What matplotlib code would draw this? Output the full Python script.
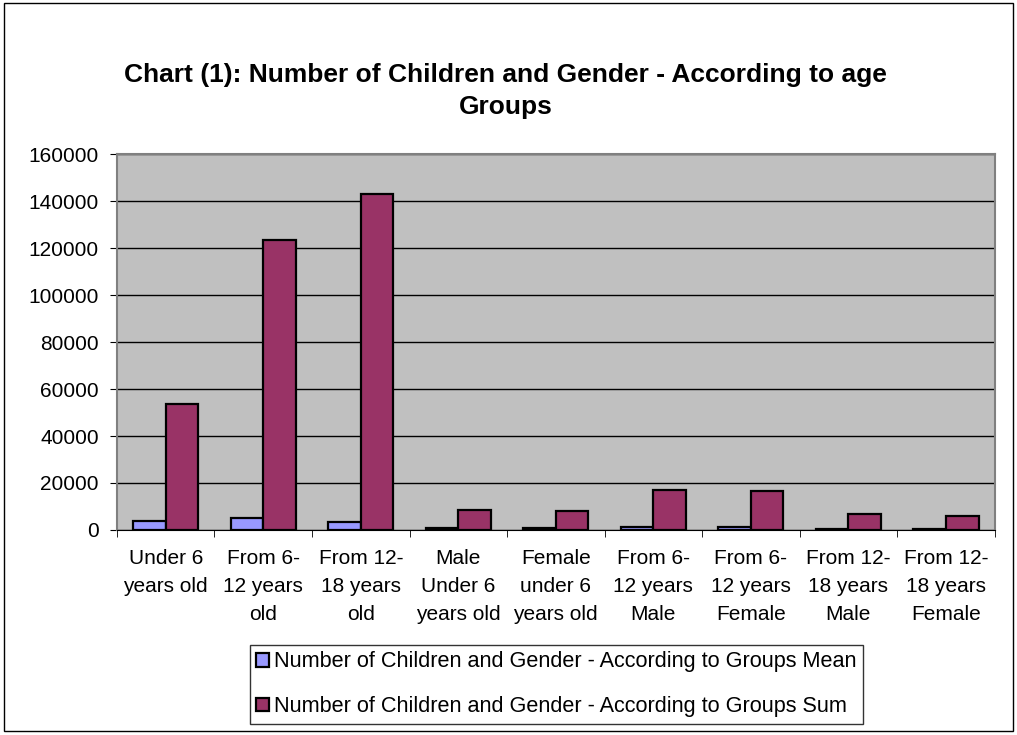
import matplotlib

matplotlib.use("Agg")
import matplotlib.pyplot as plt
import numpy as np
from matplotlib.patches import Rectangle

plt.rcParams["font.family"] = ["Liberation Sans", "DejaVu Sans"]

CATEGORIES = [
    "Under 6\nyears old",
    "From 6-\n12 years\nold",
    "From 12-\n18 years\nold",
    "Male\nUnder 6\nyears old",
    "Female\nunder 6\nyears old",
    "From 6-\n12 years\nMale",
    "From 6-\n12 years\nFemale",
    "From 12-\n18 years\nMale",
    "From 12-\n18 years\nFemale",
]
MEAN_VALUES = [3950, 5100, 3500, 900, 800, 1100, 1050, 600, 550]
SUM_VALUES = [53500, 123500, 143300, 8600, 7900, 16900, 16600, 6900, 5800]
SERIES_NAMES = [
    "Number of Children and Gender - According to Groups Mean",
    "Number of Children and Gender - According to Groups Sum",
]
TITLE = "Chart (1): Number of Children and Gender - According to age\nGroups"

fig = plt.figure(figsize=(10.17, 7.35), dpi=100)
fig.patches.append(Rectangle((0.004, 0.006), 0.992, 0.99, transform=fig.transFigure,
                             fill=False, edgecolor="black", linewidth=1.0))
ax = fig.add_axes([0.115, 0.279, 0.863, 0.511])
ax.set_facecolor("#C0C0C0")

x = np.arange(len(CATEGORIES))
width = 0.335
ax.bar(x - width / 2, MEAN_VALUES, width, color="#9999FF", edgecolor="black",
       linewidth=1.6, label=SERIES_NAMES[0], zorder=3)
ax.bar(x + width / 2, SUM_VALUES, width, color="#993366", edgecolor="black",
       linewidth=1.6, label=SERIES_NAMES[1], zorder=3)

ax.set_xlim(-0.5, len(CATEGORIES) - 0.5)
ax.set_ylim(0, 160000)
ax.set_yticks(np.arange(0, 160001, 20000))
ax.yaxis.grid(True, color="black", linewidth=1.0, zorder=1)
ax.set_axisbelow(True)

ax.set_xticks(x)
ax.set_xticklabels(CATEGORIES, fontsize=15, linespacing=1.58)
ax.set_xticks(np.arange(-0.5, len(CATEGORIES)), minor=True)
ax.tick_params(axis="x", which="major", length=0, pad=14)
ax.tick_params(axis="x", which="minor", length=5, color="black")
ax.tick_params(axis="y", labelsize=15, length=5, pad=8)

for side in ("top", "right", "left"):
    ax.spines[side].set_color("#808080")
    ax.spines[side].set_linewidth(1.5)
ax.spines["bottom"].set_color("black")

fig.text(0.497, 0.876, TITLE, ha="center", va="center", fontsize=19,
         fontweight="bold", linespacing=1.42)

leg = fig.legend(loc="center", bbox_to_anchor=(0.547, 0.069), fontsize=15.6,
                 frameon=True, fancybox=False, edgecolor="black",
                 handlelength=0.6, handleheight=0.6, handletextpad=0.2,
                 labelspacing=1.1, borderpad=0.3, borderaxespad=0)
leg.get_frame().set_linewidth(1.0)
for h in leg.legend_handles:
    h.set_linewidth(1.6)

fig.savefig("out.png", dpi=100, facecolor="white")
